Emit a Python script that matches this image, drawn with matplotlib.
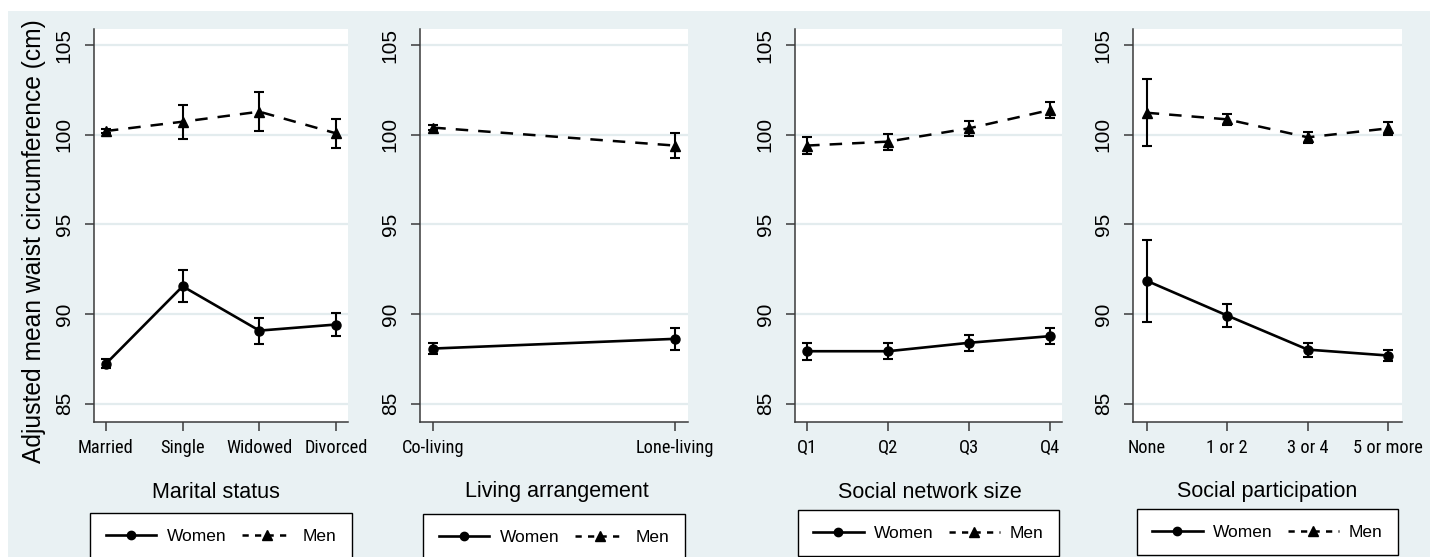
import os
import matplotlib
matplotlib.use("Agg")
import matplotlib.pyplot as plt
from matplotlib import font_manager
from matplotlib.font_manager import FontProperties
from matplotlib.textpath import TextPath
from matplotlib.patches import Rectangle
from matplotlib.lines import Line2D

# ---- data -------------------------------------------------------------
marital_cats = ["Married", "Single", "Widowed", "Divorced"]
marital_women = [87.23, 91.55, 89.08, 89.42]
marital_women_err = [0.25, 0.90, 0.72, 0.64]
marital_men = [100.21, 100.73, 101.29, 100.08]
marital_men_err = [0.12, 0.95, 1.08, 0.79]

living_cats = ["Co-living", "Lone-living"]
living_women = [88.08, 88.62]
living_women_err = [0.32, 0.60]
living_men = [100.40, 99.40]
living_men_err = [0.15, 0.70]

network_cats = ["Q1", "Q2", "Q3", "Q4"]
network_women = [87.93, 87.93, 88.40, 88.77]
network_women_err = [0.48, 0.44, 0.44, 0.45]
network_men = [99.40, 99.62, 100.36, 101.38]
network_men_err = [0.45, 0.45, 0.42, 0.46]

particip_cats = ["None", "1 or 2", "3 or 4", "5 or more"]
particip_women = [91.86, 89.92, 88.02, 87.69]
particip_women_err = [2.29, 0.62, 0.39, 0.31]
particip_men = [101.23, 100.86, 99.86, 100.36]
particip_men_err = [1.86, 0.30, 0.32, 0.35]

panel_titles = ["Marital status", "Living arrangement",
                "Social network size", "Social participation"]
y_ticks = [85, 90, 95, 100, 105]
y_label = "Adjusted mean waist circumference (cm)"
series_names = ["Women", "Men"]

# ---- fonts ------------------------------------------------------------
REG = "Liberation Sans"


def pick_condensed():
    """Return a condensed sans-serif regular face if one is installed."""
    prefs = ["liberationsansnarrow-regular", "arialn.ttf", "arial narrow",
             "robotocondensed-regular", "notosans-condensed.ttf",
             "notosans-semicondensed.ttf", "opensans-condensed",
             "opensans_condensed", "dejavusanscondensed.ttf"]
    files = [f.fname for f in font_manager.fontManager.ttflist]
    for key in prefs:
        for fn in files:
            if key in os.path.basename(fn).lower():
                return FontProperties(fname=fn)
    return FontProperties(family=REG)


cond_fp = pick_condensed()
# size the category labels so that "Married" is about 53 px wide
_w100 = TextPath((0, 0), "Married", size=100, prop=cond_fp).get_extents().width
tick_pt = 53.0 / (_w100 / 100.0) * 0.72


def cond(size):
    fp = cond_fp.copy()
    fp.set_size(size)
    return fp


W, H = 1437, 557
fig = plt.figure(figsize=(W / 100, H / 100), dpi=100, facecolor="white")

BG = "#e9f1f3"
GRID = "#e3ecee"
fig.patches.append(Rectangle((8 / W, 0), (1430 - 8) / W, 1 - 11 / H,
                             transform=fig.transFigure, facecolor=BG,
                             edgecolor="none", zorder=-10))


def fx(px):
    return px / W


def fy(py):
    return 1 - py / H


top_px, bot_px = 29, 421.7
panels = [
    dict(l=94, r=348, cats=marital_cats, w=marital_women, we=marital_women_err,
         m=marital_men, me=marital_men_err, xpad=0.155, tc=216, lt=513),
    dict(l=420, r=688, cats=living_cats, w=living_women, we=living_women_err,
         m=living_men, me=living_men_err, xpad=0.055, tc=557, lt=514),
    dict(l=795, r=1062, cats=network_cats, w=network_women, we=network_women_err,
         m=network_men, me=network_men_err, xpad=0.15, tc=930, lt=510),
    dict(l=1133, r=1402, cats=particip_cats, w=particip_women, we=particip_women_err,
         m=particip_men, me=particip_men_err, xpad=0.17, tc=1267, lt=509),
]

spine_col = "#3a3a3a"
for i, p in enumerate(panels):
    ax = fig.add_axes([fx(p["l"]), fy(bot_px), fx(p["r"] - p["l"]), (bot_px - top_px) / H])
    ax.set_facecolor("white")
    xs = list(range(len(p["cats"])))
    ax.errorbar(xs, p["w"], yerr=p["we"], color="black", linestyle="-", lw=1.9,
                marker="o", markersize=6.5, capsize=3.6, elinewidth=1.5,
                capthick=1.5, zorder=3)
    ax.errorbar(xs, p["m"], yerr=p["me"], color="black", linestyle=(0, (5, 4)),
                lw=1.8, marker="^", markersize=7, capsize=3.6, elinewidth=1.5,
                capthick=1.5, zorder=3)
    ax.set_xlim(-p["xpad"], len(xs) - 1 + p["xpad"])
    ax.set_ylim(84.0, 105.9)
    ax.set_yticks(y_ticks)
    ax.set_yticklabels([str(t) for t in y_ticks], rotation=90, va="center",
                       fontsize=15, fontfamily=REG)
    ax.set_xticks(xs)
    ax.set_xticklabels(p["cats"], fontproperties=cond(tick_pt))
    ax.tick_params(axis="y", length=6.5, width=1.1, color=spine_col, pad=8)
    ax.tick_params(axis="x", length=6.5, width=1.1, color=spine_col, pad=6)
    ax.grid(axis="y", color=GRID, lw=1.6, zorder=0)
    ax.set_axisbelow(True)
    for s in ("top", "right"):
        ax.spines[s].set_visible(False)
    for s in ("left", "bottom"):
        ax.spines[s].set_color(spine_col)
        ax.spines[s].set_linewidth(1.1)

    fig.text(fx(p["tc"]), fy(492), panel_titles[i], ha="center", va="center",
             fontsize=15.5, fontfamily=REG)

    handles = [
        Line2D([], [], color="black", lw=1.9, marker="o", markersize=6),
        Line2D([], [], color="black", lw=1.8, linestyle=(0, (2.5, 2.5)),
               marker="^", markersize=7),
    ]
    leg = fig.legend(handles, series_names, loc="upper center",
                     bbox_to_anchor=(fx((p["l"] + p["r"]) / 2), fy(p["lt"])), ncol=2,
                     frameon=True, fancybox=False, edgecolor="black",
                     framealpha=1, handlelength=2.9, handletextpad=0.6,
                     columnspacing=0.9, borderpad=0.9, borderaxespad=0,
                     prop={"family": REG, "size": 12.5})
    leg.get_frame().set_linewidth(1.0)

fig.text(fx(34), fy(241), y_label, rotation=90, ha="center", va="center",
         fontsize=17.7, fontfamily=REG)

fig.savefig("out.png", dpi=100, facecolor="white")
